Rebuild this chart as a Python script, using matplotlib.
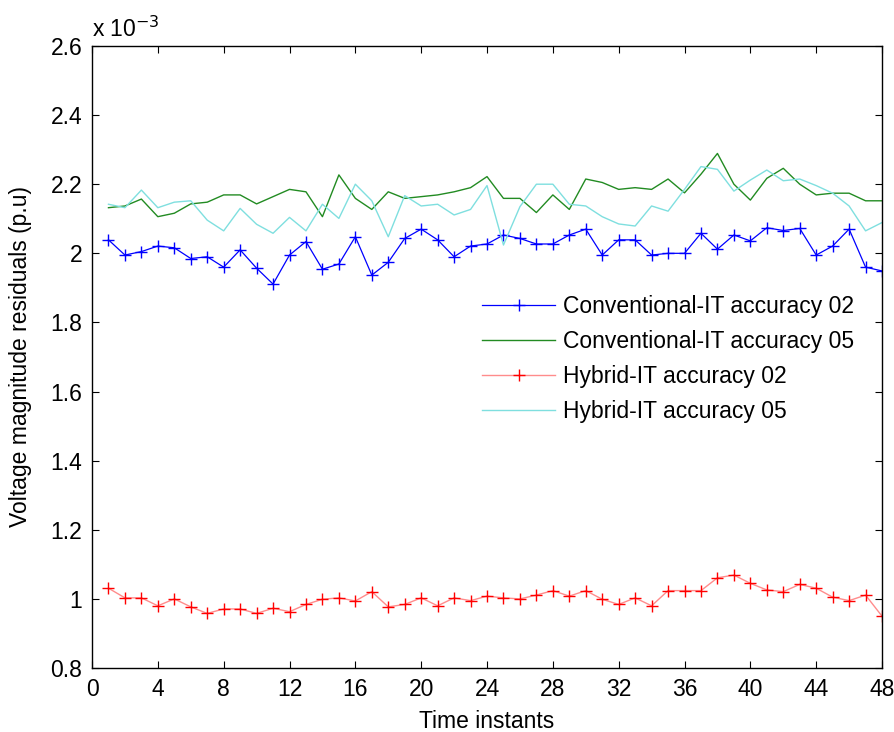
import numpy as np
import matplotlib
matplotlib.use('Agg')
import matplotlib.pyplot as plt

plt.rcParams['font.family'] = ['Liberation Sans', 'DejaVu Sans']

t = np.arange(1, 49)

conv_02 = [2.039, 1.995, 2.005, 2.021, 2.016, 1.985, 1.990, 1.960, 2.010, 1.957,
           1.911, 1.995, 2.034, 1.954, 1.969, 2.048, 1.937, 1.974, 2.043, 2.070,
           2.039, 1.990, 2.021, 2.027, 2.053, 2.043, 2.027, 2.027, 2.053, 2.070,
           1.995, 2.039, 2.039, 1.995, 2.000, 2.000, 2.058, 2.012, 2.053, 2.036,
           2.074, 2.066, 2.072, 1.995, 2.021, 2.070, 1.960, 1.949]
conv_05 = [2.132, 2.137, 2.157, 2.106, 2.116, 2.143, 2.148, 2.169, 2.169, 2.143,
           2.164, 2.185, 2.178, 2.106, 2.227, 2.159, 2.127, 2.178, 2.159, 2.164,
           2.169, 2.178, 2.190, 2.222, 2.159, 2.159, 2.118, 2.169, 2.127, 2.215,
           2.205, 2.185, 2.190, 2.185, 2.215, 2.175, 2.229, 2.289, 2.200, 2.154,
           2.217, 2.246, 2.200, 2.169, 2.174, 2.174, 2.152, 2.152]
hyb_02 = [1.031, 1.003, 1.003, 0.980, 1.000, 0.977, 0.958, 0.971, 0.971, 0.958,
          0.973, 0.963, 0.984, 0.999, 1.003, 0.994, 1.021, 0.977, 0.984, 1.003,
          0.980, 1.003, 0.995, 1.008, 1.003, 1.000, 1.011, 1.024, 1.008, 1.024,
          0.999, 0.984, 1.003, 0.980, 1.024, 1.024, 1.024, 1.061, 1.069, 1.045,
          1.026, 1.021, 1.042, 1.031, 1.005, 0.995, 1.011, 0.950]
hyb_05 = [2.142, 2.132, 2.183, 2.132, 2.148, 2.152, 2.096, 2.065, 2.130, 2.084,
          2.058, 2.104, 2.065, 2.142, 2.101, 2.200, 2.152, 2.048, 2.167, 2.137,
          2.142, 2.111, 2.127, 2.196, 2.024, 2.135, 2.200, 2.200, 2.142, 2.137,
          2.106, 2.085, 2.079, 2.137, 2.122, 2.185, 2.251, 2.243, 2.180, 2.212,
          2.241, 2.210, 2.215, 2.196, 2.174, 2.137, 2.065, 2.089]

fs = 16.5

fig = plt.figure(figsize=(8.95, 7.32), dpi=100)
ax = fig.add_axes([0.1028, 0.0874, 0.8827, 0.8498])

ax.plot(t, conv_02, color='#0000ff', lw=0.9, marker='+', ms=9, mew=1.0,
        label='Conventional-IT accuracy 02')
ax.plot(t, conv_05, color='#228b22', lw=1.0, label='Conventional-IT accuracy 05')
ax.plot(t, hyb_02, color='#ff8c8c', lw=1.0, marker='+', ms=9, mew=1.0,
        mec='#ff0000', label='Hybrid-IT accuracy 02')
ax.plot(t, hyb_05, color='#7fdfdf', lw=1.0, label='Hybrid-IT accuracy 05')

ax.set_xlim(0, 48)
ax.set_ylim(0.8, 2.6)
ax.set_xticks(np.arange(0, 49, 4))
ax.set_yticks(np.arange(0.8, 2.61, 0.2))
ax.set_yticklabels(['0.8', '1', '1.2', '1.4', '1.6', '1.8', '2', '2.2', '2.4', '2.6'])
ax.tick_params(direction='in', top=True, right=True, labelsize=fs, length=5)
ax.tick_params(axis='x', pad=7)
ax.tick_params(axis='y', pad=7)
for s in ax.spines.values():
    s.set_linewidth(1.0)

ax.set_xlabel('Time instants', fontsize=fs, labelpad=7)
ax.set_ylabel('Voltage magnitude residuals (p.u)', fontsize=fs, labelpad=13)
ax.text(0.0, 1.006, 'x 10$^{-3}$', transform=ax.transAxes, fontsize=fs,
        ha='left', va='bottom')

ax.legend(loc='upper left', bbox_to_anchor=(0.4676, 0.633), frameon=False,
          fontsize=fs, handlelength=3.2, handletextpad=0.35, labelspacing=0.52)

fig.savefig('out.png', dpi=100)
